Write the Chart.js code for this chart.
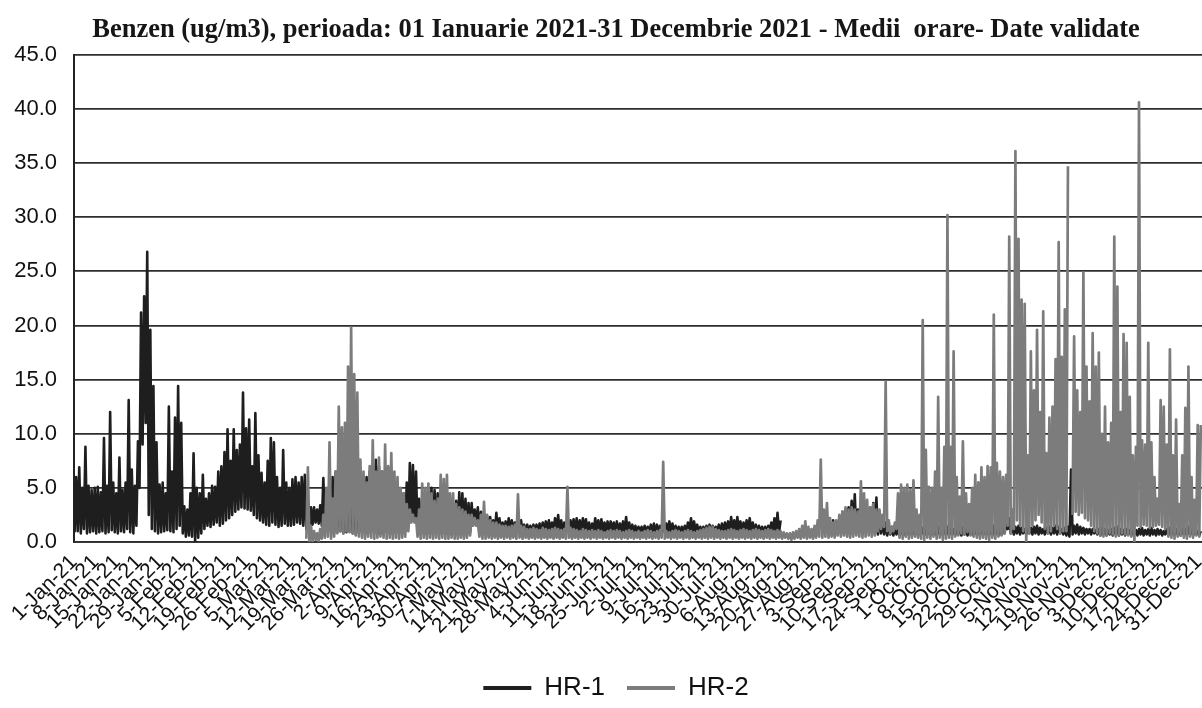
<!DOCTYPE html>
<html>
<head>
<meta charset="utf-8">
<script src="https://cdn.jsdelivr.net/npm/chart.js@4/dist/chart.umd.min.js"></script>
<style>
  html, body { margin: 0; padding: 0; background: #ffffff; overflow: hidden; }
  #wrap { width: 1202px; height: 708px; overflow: hidden; position: relative; }
  #benzen { display: block; }
</style>
</head>
<body>
<div id="wrap"><canvas id="benzen" width="1232" height="708"></canvas></div>
<script>
// Weekly tick labels along the time axis (one every 7 days)
const weekLabels = [
  '1-Jan-21', '8-Jan-21', '15-Jan-21', '22-Jan-21', '29-Jan-21',
  '5-Feb-21', '12-Feb-21', '19-Feb-21', '26-Feb-21',
  '5-Mar-21', '12-Mar-21', '19-Mar-21', '26-Mar-21',
  '2-Apr-21', '9-Apr-21', '16-Apr-21', '23-Apr-21', '30-Apr-21',
  '7-May-21', '14-May-21', '21-May-21', '28-May-21',
  '4-Jun-21', '11-Jun-21', '18-Jun-21', '25-Jun-21',
  '2-Jul-21', '9-Jul-21', '16-Jul-21', '23-Jul-21', '30-Jul-21',
  '6-Aug-21', '13-Aug-21', '20-Aug-21', '27-Aug-21',
  '3-Sep-21', '10-Sep-21', '17-Sep-21', '24-Sep-21',
  '1-Oct-21', '8-Oct-21', '15-Oct-21', '22-Oct-21', '29-Oct-21',
  '5-Nov-21', '12-Nov-21', '19-Nov-21', '26-Nov-21',
  '3-Dec-21', '10-Dec-21', '17-Dec-21', '24-Dec-21', '31-Dec-21'
];

// HR-1: daily highest hourly value (ug/m3), one row per week
const hr1High = [
  6.0, 6.9, 5.0, 8.8, 5.2, 4.8, 5.0,
  5.1, 4.6, 9.6, 5.2, 12.0, 5.5, 4.5,
  7.8, 4.8, 5.5, 13.1, 6.7, 5.2, 9.3,
  21.2, 22.7, 26.8, 19.6, 14.4, 9.2, 5.3,
  5.5, 4.5, 12.5, 6.5, 11.5, 14.4, 11.0,
  3.3, 3.0, 4.5, 8.2, 5.0, 4.5, 6.2,
  4.0, 4.5, 5.2, 5.1, 6.5, 7.0, 8.3,
  10.4, 7.5, 10.4, 8.5, 9.0, 13.8, 10.5,
  11.3, 7.0, 11.9, 8.0, 6.4, 5.5, 7.5,
  9.6, 9.2, 6.0, 5.0, 8.5, 5.5, 5.0,
  5.8, 6.0, 5.5, 6.0, 6.2, 3.5, 3.2,
  3.2, 3.0, 3.4, 5.9, 4.5, 5.5, 6.0,
  6.5, 7.0, 6.0, 7.5, 8.0, 7.0, 6.5,
  6.0, 5.5, 5.0, 6.0, 6.5, 6.8, 7.6,
  7.0, 6.5, 6.0, 5.5, 6.0, 5.0, 4.5,
  4.0, 4.5, 5.5, 7.3, 7.1, 6.5, 4.0,
  4.0, 4.5, 4.5, 5.0, 4.8, 4.5, 4.0,
  4.6, 4.2, 4.0, 3.5, 3.8, 4.6, 4.5,
  4.0, 3.6, 3.6, 3.0, 3.2, 2.8, 2.5,
  2.4, 2.3, 2.0, 2.7, 2.2, 1.8, 1.9,
  2.2, 2.0, 1.8, 1.7, 2.0, 1.6, 1.6,
  1.5, 1.6, 1.6, 1.7, 1.8, 1.9, 2.0,
  1.8, 2.2, 2.5, 2.0, 1.8, 1.9, 2.0,
  2.1, 2.2, 2.0, 2.2, 2.1, 1.8, 1.7,
  2.2, 2.0, 2.1, 1.8, 1.9, 1.9, 1.8,
  1.9, 1.7, 1.9, 2.3, 1.8, 1.6, 1.5,
  1.4, 1.4, 1.5, 1.4, 1.6, 1.7, 1.6,
  1.5, 1.8, 1.7, 1.9, 1.7, 1.5, 1.4,
  1.4, 1.5, 1.8, 2.2, 1.9, 1.6, 1.4,
  1.4, 1.5, 1.6, 1.5, 1.4, 1.6, 1.7,
  1.8, 1.9, 2.3, 2.0, 2.3, 1.9, 1.8,
  2.0, 2.2, 1.8, 1.6, 1.5, 1.4, 1.4,
  1.5, 1.8, 2.2, 2.7, 2.0, null, null,
  null, null, null, null, null, null, null,
  null, null, null, null, null, null, null,
  2.0, 1.5, 2.0, 2.8, 3.0, 3.2, 3.8,
  4.4, 3.0, 2.8, 3.0, 2.8, 3.2, 3.6,
  4.1, 2.8, 2.0, 1.8, 1.5, 1.4, 1.3,
  1.2, 1.3, 1.1, 1.2, 1.4, 1.2, 1.1,
  1.2, 1.3, 1.4, 1.2, 1.1, 1.3, 1.4,
  1.3, 1.2, 1.4, 1.3, 1.2, 1.1, 1.3,
  1.4, 1.3, 1.2, 1.3, 1.4, 1.3, 1.2,
  1.2, 1.3, 1.4, 1.5, 1.3, 1.2, 1.4,
  1.6, 2.2, 1.5, 1.4, 1.5, 1.3, 1.2,
  1.2, 1.3, 1.4, 1.5, 1.3, 1.2, 1.3,
  1.4, 1.3, 1.5, 1.4, 1.2, 1.3, 1.4,
  6.7, 1.5, 1.6, 1.4, 1.3, 1.2, 1.2,
  1.2, 1.1, 1.2, 1.3, 1.2, 1.1, 1.2,
  1.3, 1.4, 1.2, 1.1, 1.2, 1.1, 1.0,
  1.1, 1.2, 1.3, 1.1, 1.2, 1.3, 1.1,
  1.2, 1.1, 1.0, 1.2, 1.3, 1.4, 1.2,
  1.1, 1.3, 1.2, 1.4, 1.3, 1.1, 1.0,
  1.0
];

// HR-1: daily lowest hourly value (ug/m3)
const hr1Low = [
  0.9, 1.0, 0.8, 1.2, 0.8, 0.9, 1.0,
  0.8, 0.9, 1.0, 0.8, 0.9, 1.1, 0.9,
  0.8, 1.0, 0.9, 1.2, 0.9, 0.8, 1.5,
  5.0, 9.0, 11.0, 2.5, 1.2, 1.0, 0.8,
  0.9, 1.0, 1.1, 1.0, 0.9, 1.2, 1.5,
  0.8, 0.5, 0.6, 0.5, 0.0, 0.4, 0.8,
  1.2, 1.5, 1.4, 1.6, 1.8, 1.5, 1.7,
  2.0, 2.2, 2.5, 2.8, 3.0, 3.2, 3.1,
  3.0, 2.9, 2.5, 2.2, 2.0, 1.8, 1.6,
  1.5, 1.8, 1.6, 1.4, 1.5, 1.7, 1.5,
  1.5, 1.6, 1.8, 1.7, 1.5, 1.2, 1.0,
  1.6, 1.8, 1.7, 1.5, 1.2, 1.0, 0.9,
  0.8, 0.9, 1.0, 0.8, 0.9, 1.0, 0.8,
  0.7, 0.8, 0.9, 0.7, 0.8, 0.9, 0.8,
  0.7, 0.8, 0.7, 0.9, 0.8, 0.7, 0.8,
  0.9, 0.8, 1.0, 1.5, 2.0, 2.0, 0.9,
  0.7, 0.8, 0.7, 0.8, 0.7, 0.8, 0.7,
  0.8, 0.7, 0.8, 0.7, 0.8, 0.7, 0.8,
  0.7, 0.8, 0.9, 1.6, 1.6, 0.8, 0.7,
  0.8, 0.7, 0.8, 0.7, 0.8, 0.7, 0.8,
  0.9, 0.8, 0.9, 1.0, 0.9, 0.8, 0.9,
  0.8, 0.9, 1.0, 0.9, 0.8, 0.9, 1.0,
  0.9, 1.0, 0.9, 0.8, 0.9, 1.0, 0.9,
  1.0, 0.9, 0.8, 0.9, 1.0, 0.9, 0.8,
  0.9, 1.0, 0.9, 0.8, 0.9, 0.9, 1.0,
  0.9, 0.8, 0.9, 1.0, 0.9, 0.8, 0.9,
  0.8, 0.9, 0.8, 0.9, 0.8, 0.9, 0.8,
  0.9, 0.8, 0.9, 1.0, 0.9, 0.8, 0.8,
  0.8, 0.9, 0.8, 0.9, 1.0, 0.9, 0.8,
  0.8, 0.9, 0.8, 0.9, 0.8, 0.9, 0.8,
  0.9, 1.0, 0.9, 1.0, 0.9, 1.0, 0.9,
  0.9, 1.0, 0.9, 0.8, 0.9, 0.8, 0.9,
  0.9, 1.0, 0.9, 1.0, 0.9, null, null,
  null, null, null, null, null, null, null,
  null, null, null, null, null, null, null,
  0.8, 0.7, 0.8, 0.9, 0.8, 0.9, 1.0,
  0.9, 0.8, 0.9, 0.8, 0.9, 1.0, 0.9,
  0.8, 0.7, 0.8, 0.7, 0.6, 0.7, 0.6,
  0.7, 0.6, 0.7, 0.6, 0.7, 0.6, 0.7,
  0.6, 0.7, 0.6, 0.7, 0.6, 0.7, 0.6,
  0.7, 0.6, 0.7, 0.6, 0.7, 0.6, 0.7,
  0.6, 0.7, 0.6, 0.7, 0.6, 0.7, 0.6,
  0.7, 0.6, 0.7, 0.6, 0.7, 0.6, 0.7,
  0.8, 1.2, 0.8, 0.7, 0.8, 0.7, 0.8,
  0.7, 0.8, 0.7, 0.8, 0.7, 0.8, 0.7,
  0.8, 0.7, 0.8, 0.7, 0.8, 0.7, 0.6,
  0.5, 0.7, 0.8, 0.7, 0.8, 0.7, 0.8,
  0.7, 0.8, 0.7, 0.6, 0.7, 0.6, 0.7,
  0.6, 0.7, 0.6, 0.7, 0.6, 0.7, 0.6,
  0.7, 0.6, 0.7, 0.6, 0.7, 0.6, 0.7,
  0.6, 0.7, 0.6, 0.7, 0.6, 0.7, 0.6,
  0.7, 0.6, 0.7, 0.6, 0.7, 0.6, 0.7,
  0.6
];

// HR-2: daily highest hourly value (ug/m3); station reports from mid-March
const hr2High = [
  null, null, null, null, null, null, null,
  null, null, null, null, null, null, null,
  null, null, null, null, null, null, null,
  null, null, null, null, null, null, null,
  null, null, null, null, null, null, null,
  null, null, null, null, null, null, null,
  null, null, null, null, null, null, null,
  null, null, null, null, null, null, null,
  null, null, null, null, null, null, null,
  null, null, null, null, null, null, null,
  null, null, null, null, null, 6.9, 1.5,
  1.0, 0.8, 1.2, 2.5, 5.0, 9.2, 4.0,
  6.5, 12.5, 10.6, 11.0, 16.2, 19.8, 15.5,
  13.8, 7.6, 6.5, 5.5, 7.0, 9.4, 6.5,
  7.8, 6.5, 9.0, 7.0, 8.2, 6.5, 6.0,
  5.0, 4.5, 3.5, 3.0, 2.5, 2.2, 3.0,
  5.4, 5.0, 5.4, 4.5, 3.8, 4.0, 6.2,
  5.8, 6.2, 4.5, 4.5, 3.5, 3.2, 3.0,
  2.8, 2.5, 2.5, 2.2, 2.0, 2.5, 3.7,
  2.5, 2.0, 1.8, 1.8, 1.6, 1.5, 1.5,
  1.4, 1.5, 1.6, 4.4, 1.5, 1.4, 1.2,
  1.2, 1.3, 1.2, 1.1, 1.3, 1.2, 1.1,
  1.2, 1.3, 1.2, 1.1, 1.2, 5.1, 1.3,
  1.2, 1.1, 1.0, 1.2, 1.1, 1.0, 1.1,
  1.0, 1.1, 1.0, 0.9, 1.0, 1.1, 1.0,
  1.1, 1.0, 0.9, 1.0, 1.1, 1.0, 0.9,
  1.0, 0.9, 1.0, 1.1, 1.0, 0.9, 1.0,
  1.1, 7.4, 1.0, 0.9, 1.0, 1.1, 1.0,
  0.9, 1.0, 1.1, 1.0, 0.9, 1.0, 1.1,
  1.2, 1.3, 1.4, 1.4, 1.2, 1.1, 1.0,
  1.0, 1.1, 1.2, 1.1, 1.0, 1.1, 1.2,
  1.1, 1.0, 1.1, 1.2, 1.1, 1.0, 1.1,
  1.2, 1.1, 1.0, 1.1, 1.0, 0.9, 0.8,
  0.8, 0.9, 1.0, 1.2, 1.5, 1.9, 1.4,
  1.2, 1.5, 2.0, 7.6, 3.0, 3.6, 2.2,
  1.8, 2.0, 2.5, 2.8, 3.2, 3.0, 3.2,
  3.0, 2.8, 5.6, 4.5, 3.9, 3.2, 3.5,
  3.0, 3.0, 2.5, 14.8, 2.0, 1.4, 1.8,
  4.5, 5.3, 5.0, 5.3, 4.8, 5.7, 3.0,
  2.5, 20.5, 8.5, 5.1, 5.0, 6.5, 13.4,
  5.0, 8.8, 30.2, 8.8, 17.6, 6.0, 4.2,
  9.3, 4.5, 3.5, 5.0, 6.2, 5.5, 6.9,
  6.0, 7.0, 6.9, 21.0, 7.3, 6.5, 6.0,
  6.2, 28.2, 3.0, 36.1, 28.0, 22.4, 22.0,
  8.0, 17.6, 14.0, 19.6, 12.0, 21.3, 8.2,
  11.5, 12.5, 16.9, 27.7, 17.1, 21.5, 34.7,
  null, 19.0, 14.0, 12.0, 24.9, 16.2, 13.0,
  19.3, 16.2, 17.5, 10.0, 12.5, 9.2, 11.0,
  28.2, 23.6, 12.0, 19.2, 18.4, 13.4, 8.0,
  8.8, 40.6, 9.4, 9.0, 18.4, 9.2, 6.0,
  4.0, 13.1, 12.5, 9.0, 17.8, 8.0, 11.3,
  3.5, 8.0, 12.4, 16.2, 6.0, 3.9, 10.8,
  10.8
];

// HR-2: daily lowest hourly value (ug/m3)
const hr2Low = [
  null, null, null, null, null, null, null,
  null, null, null, null, null, null, null,
  null, null, null, null, null, null, null,
  null, null, null, null, null, null, null,
  null, null, null, null, null, null, null,
  null, null, null, null, null, null, null,
  null, null, null, null, null, null, null,
  null, null, null, null, null, null, null,
  null, null, null, null, null, null, null,
  null, null, null, null, null, null, null,
  null, null, null, null, null, 0.3, 0.1,
  0.1, 0.2, 0.1, 0.3, 0.4, 0.5, 0.3,
  0.5, 0.8, 1.0, 0.8, 1.0, 0.9, 0.8,
  0.6, 0.5, 0.4, 0.3, 0.5, 0.4, 0.3,
  0.4, 0.5, 0.4, 0.3, 0.4, 0.3, 0.4,
  0.3, 0.4, 0.5, 1.0, 1.8, 1.8, 0.5,
  0.3, 0.4, 0.3, 0.4, 0.3, 0.4, 0.3,
  0.4, 0.3, 0.3, 0.4, 0.3, 0.3, 0.4,
  0.3, 0.4, 0.6, 1.5, 1.5, 0.5, 0.3,
  0.3, 0.4, 0.3, 0.4, 0.3, 0.4, 0.3,
  0.4, 0.3, 0.4, 0.3, 0.4, 0.3, 0.4,
  0.3, 0.4, 0.3, 0.4, 0.3, 0.4, 0.3,
  0.4, 0.3, 0.4, 0.3, 0.4, 0.3, 0.4,
  0.3, 0.4, 0.3, 0.4, 0.3, 0.4, 0.3,
  0.4, 0.3, 0.4, 0.3, 0.4, 0.3, 0.4,
  0.3, 0.4, 0.3, 0.4, 0.3, 0.4, 0.3,
  0.4, 0.3, 0.4, 0.3, 0.4, 0.3, 0.4,
  0.3, 0.4, 0.3, 0.4, 0.3, 0.4, 0.3,
  0.4, 0.3, 0.4, 0.3, 0.4, 0.3, 0.4,
  0.3, 0.4, 0.3, 0.4, 0.3, 0.4, 0.3,
  0.4, 0.3, 0.4, 0.3, 0.4, 0.3, 0.4,
  0.3, 0.4, 0.3, 0.4, 0.3, 0.4, 0.3,
  0.4, 0.3, 0.4, 0.3, 0.4, 0.3, 0.4,
  0.3, 0.2, 0.3, 0.4, 0.3, 0.4, 0.3,
  0.4, 0.3, 0.4, 0.5, 0.4, 0.5, 0.4,
  0.5, 0.4, 0.6, 0.5, 0.6, 0.5, 0.4,
  0.5, 0.6, 0.5, 0.4, 0.5, 0.6, 0.5,
  0.6, 1.0, 1.2, 1.4, 1.0, 0.8, 1.0,
  1.2, 0.4, 0.3, 0.5, 0.3, 0.4, 0.5,
  0.4, 0.3, 0.2, 0.4, 0.3, 0.5, 0.3,
  0.4, 0.2, 0.3, 0.4, 0.3, 0.5, 0.6,
  0.8, 0.7, 0.9, 0.6, 0.5, 0.4, 0.3,
  0.4, 0.3, 0.2, 0.4, 0.3, 0.5, 0.6,
  0.8, 1.5, 0.8, 1.2, 2.0, 1.5, 1.0,
  0.0, 0.8, 1.5, 2.0, 2.5, 1.8, 1.2,
  0.8, 1.0, 1.5, 1.2, 0.8, 1.0, 1.0,
  null, 2.5, 2.8, 2.5, 2.7, 2.2, 2.0,
  1.5, 1.0, 0.8, 0.6, 0.5, 0.6, 0.8,
  0.7, 0.5, 0.6, 0.8, 0.7, 0.6, 0.5,
  0.0, 1.5, 1.4, 1.6, 1.5, 1.3, 1.4,
  1.5, 1.6, 1.4, 1.2, 0.5, 0.4, 0.3,
  0.5, 0.6, 0.4, 0.3, 0.5, 0.4, 0.6,
  0.5
];

// Each day becomes a low point followed by a high point, giving the dense hourly trace
function dailyTrace(low, high) {
  const pts = [];
  for (let d = 0; d < high.length; d++) {
    if (high[d] === null || low[d] === null) {
      pts.push({ x: d + 0.45, y: null });
      continue;
    }
    pts.push({ x: d + 0.2, y: low[d] });
    pts.push({ x: d + 0.7, y: high[d] });
  }
  return pts;
}

const PLOT_BOTTOM = 542;
// the plot runs on past the right edge of the visible page
const X_AXIS_MAX = 374.8;
const FONT_SANS = "'Liberation Sans', Arial, sans-serif";
const FONT_SERIF = "'Liberation Serif', 'Times New Roman', serif";

new Chart(document.getElementById('benzen'), {
  type: 'line',
  data: {
    datasets: [
      {
        label: 'HR-1',
        data: dailyTrace(hr1Low, hr1High),
        borderColor: '#1e1e1e',
        backgroundColor: '#1e1e1e',
        borderWidth: 2.6,
        borderJoinStyle: 'round',
        pointRadius: 0,
        tension: 0,
        fill: false,
        order: 1
      },
      {
        label: 'HR-2',
        data: dailyTrace(hr2Low, hr2High),
        borderColor: '#7c7c7c',
        backgroundColor: '#7c7c7c',
        borderWidth: 2.7,
        borderJoinStyle: 'round',
        pointRadius: 0,
        tension: 0,
        fill: false,
        order: 0
      }
    ]
  },
  options: {
    responsive: false,
    animation: false,
    devicePixelRatio: 1,
    spanGaps: false,
    layout: { padding: { left: 0, right: 0, top: 0, bottom: -3 } },
    plugins: {
      title: {
        display: true,
        text: 'Benzen (ug/m3), perioada: 01 Ianuarie 2021-31 Decembrie 2021 - Medii  orare- Date validate',
        color: '#161616',
        font: { family: FONT_SERIF, size: 26.5, weight: 'bold' },
        padding: { top: 14, bottom: 9 }
      },
      legend: {
        position: 'bottom',
        labels: {
          color: '#111111',
          font: { family: FONT_SANS, size: 26 },
          boxWidth: 48,
          boxHeight: 4,
          padding: 22,
          sort: (a, b) => a.datasetIndex - b.datasetIndex,
          generateLabels: (chart) => chart.data.datasets.map((ds, i) => ({
            text: ds.label,
            fillStyle: ds.borderColor,
            strokeStyle: ds.borderColor,
            lineWidth: 0,
            hidden: false,
            datasetIndex: i,
            fontColor: '#111111'
          }))
        }
      },
      tooltip: { enabled: false }
    },
    scales: {
      x: {
        type: 'linear',
        min: 0,
        max: X_AXIS_MAX,
        grid: { display: false, drawTicks: false },
        border: { display: true, color: '#2e2e2e', width: 1.8 },
        afterBuildTicks: (scale) => {
          scale.ticks = weekLabels.map((_, i) => ({ value: i * 7 }));
        },
        ticks: {
          autoSkip: false,
          minRotation: 45,
          maxRotation: 45,
          padding: 8,
          color: '#111111',
          font: { family: FONT_SANS, size: 21 },
          callback: (value, index) => weekLabels[index]
        },
        afterFit: (scale) => {
          const legendH = scale.chart.legend ? scale.chart.legend.height : 0;
          scale.height = scale.chart.height - PLOT_BOTTOM - legendH + 3;
          scale.paddingLeft = 0;
          scale.paddingRight = 0;
        }
      },
      y: {
        min: 0,
        max: 45,
        grid: { color: '#2e2e2e', lineWidth: 1.8, drawTicks: false },
        border: { display: true, color: '#222222', width: 2 },
        ticks: {
          stepSize: 5,
          padding: 17,
          color: '#111111',
          font: { family: FONT_SANS, size: 22 },
          callback: (value) => Number(value).toFixed(1)
        },
        afterFit: (scale) => { scale.width = 74; }
      }
    }
  }
});
</script>
</body>
</html>
